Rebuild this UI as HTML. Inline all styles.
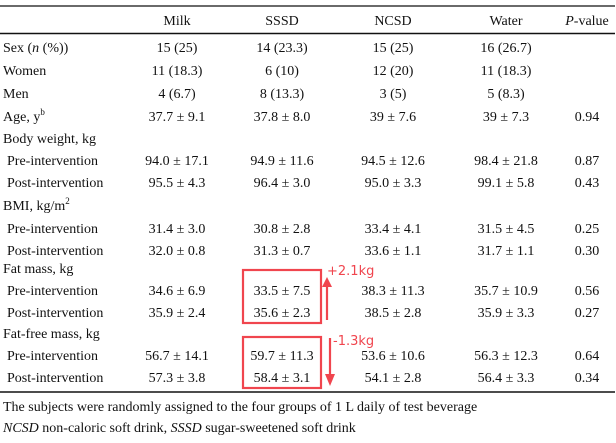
<!DOCTYPE html>
<html><head><meta charset="utf-8"><style>
html,body{margin:0;padding:0;background:#fff;}
svg text{font-family:"Liberation Serif",serif;font-size:14px;fill:#111;}
</style></head><body>
<svg width="616" height="438" viewBox="0 0 616 438" xmlns="http://www.w3.org/2000/svg">
<line x1="0" y1="6" x2="615" y2="6" stroke="#111" stroke-width="1.2"/>
<line x1="0" y1="33.5" x2="615" y2="33.5" stroke="#111" stroke-width="1.5"/>
<line x1="0" y1="392" x2="615" y2="392" stroke="#111" stroke-width="1.5"/>
<g text-anchor="middle">
<text x="177" y="25">Milk</text><text x="282" y="25">SSSD</text><text x="393" y="25">NCSD</text><text x="506" y="25">Water</text><text x="587" y="25"><tspan font-style="italic">P</tspan>-value</text>
<text x="177" y="52">15 (25)</text><text x="282" y="52">14 (23.3)</text><text x="393" y="52">15 (25)</text><text x="506" y="52">16 (26.7)</text>
<text x="177" y="75">11 (18.3)</text><text x="282" y="75">6 (10)</text><text x="393" y="75">12 (20)</text><text x="506" y="75">11 (18.3)</text>
<text x="177" y="98">4 (6.7)</text><text x="282" y="98">8 (13.3)</text><text x="393" y="98">3 (5)</text><text x="506" y="98">5 (8.3)</text>
<text x="177" y="121">37.7 ± 9.1</text><text x="282" y="121">37.8 ± 8.0</text><text x="393" y="121">39 ± 7.6</text><text x="506" y="121">39 ± 7.3</text><text x="587" y="121">0.94</text>
<text x="177" y="165">94.0 ± 17.1</text><text x="282" y="165">94.9 ± 11.6</text><text x="393" y="165">94.5 ± 12.6</text><text x="506" y="165">98.4 ± 21.8</text><text x="587" y="165">0.87</text>
<text x="177" y="187">95.5 ± 4.3</text><text x="282" y="187">96.4 ± 3.0</text><text x="393" y="187">95.0 ± 3.3</text><text x="506" y="187">99.1 ± 5.8</text><text x="587" y="187">0.43</text>
<text x="177" y="233">31.4 ± 3.0</text><text x="282" y="233">30.8 ± 2.8</text><text x="393" y="233">33.4 ± 4.1</text><text x="506" y="233">31.5 ± 4.5</text><text x="587" y="233">0.25</text>
<text x="177" y="255">32.0 ± 0.8</text><text x="282" y="255">31.3 ± 0.7</text><text x="393" y="255">33.6 ± 1.1</text><text x="506" y="255">31.7 ± 1.1</text><text x="587" y="255">0.30</text>
<text x="177" y="295">34.6 ± 6.9</text><text x="282" y="295">33.5 ± 7.5</text><text x="393" y="295">38.3 ± 11.3</text><text x="506" y="295">35.7 ± 10.9</text><text x="587" y="295">0.56</text>
<text x="177" y="317">35.9 ± 2.4</text><text x="282" y="317">35.6 ± 2.3</text><text x="393" y="317">38.5 ± 2.8</text><text x="506" y="317">35.9 ± 3.3</text><text x="587" y="317">0.27</text>
<text x="177" y="360">56.7 ± 14.1</text><text x="282" y="360">59.7 ± 11.3</text><text x="393" y="360">53.6 ± 10.6</text><text x="506" y="360">56.3 ± 12.3</text><text x="587" y="360">0.64</text>
<text x="177" y="382">57.3 ± 3.8</text><text x="282" y="382">58.4 ± 3.1</text><text x="393" y="382">54.1 ± 2.8</text><text x="506" y="382">56.4 ± 3.3</text><text x="587" y="382">0.34</text>
</g>
<g>
<text x="3" y="52">Sex (<tspan font-style="italic">n</tspan> (%))</text>
<text x="3" y="75">Women</text>
<text x="3" y="98">Men</text>
<text x="3" y="121">Age, y<tspan font-size="9" dy="-6">b</tspan></text>
<text x="3" y="143">Body weight, kg</text>
<text x="7" y="165">Pre-intervention</text>
<text x="7" y="187">Post-intervention</text>
<text x="3" y="210">BMI, kg/m<tspan font-size="9" dy="-6">2</tspan></text>
<text x="7" y="233">Pre-intervention</text>
<text x="7" y="255">Post-intervention</text>
<text x="3" y="273">Fat mass, kg</text>
<text x="7" y="295">Pre-intervention</text>
<text x="7" y="317">Post-intervention</text>
<text x="3" y="338">Fat-free mass, kg</text>
<text x="7" y="360">Pre-intervention</text>
<text x="7" y="382">Post-intervention</text>
<text x="3" y="411">The subjects were randomly assigned to the four groups of 1 L daily of test beverage</text>
<text x="3" y="432"><tspan font-style="italic">NCSD</tspan> non-caloric soft drink, <tspan font-style="italic">SSSD</tspan> sugar-sweetened soft drink</text>
</g>
<g stroke="#f0454e" fill="none" stroke-width="2.2">
<rect x="243" y="270" width="78" height="53"/>
<rect x="243" y="337" width="78" height="51"/>
<line x1="327" y1="320" x2="327" y2="285"/>
<line x1="330" y1="338" x2="330" y2="376"/>
</g>
<g fill="#f0454e">
<polygon points="322,287 332,287 327,277"/>
<polygon points="325,374 335,374 330,386"/>
</g>
<text x="327" y="275" style="font-family:'DejaVu Sans','Liberation Sans',sans-serif;font-size:13px;fill:#f0454e">+2.1kg</text>
<text x="333" y="345" style="font-family:'DejaVu Sans','Liberation Sans',sans-serif;font-size:13px;fill:#f0454e">-1.3kg</text>
</svg>
</body></html>
